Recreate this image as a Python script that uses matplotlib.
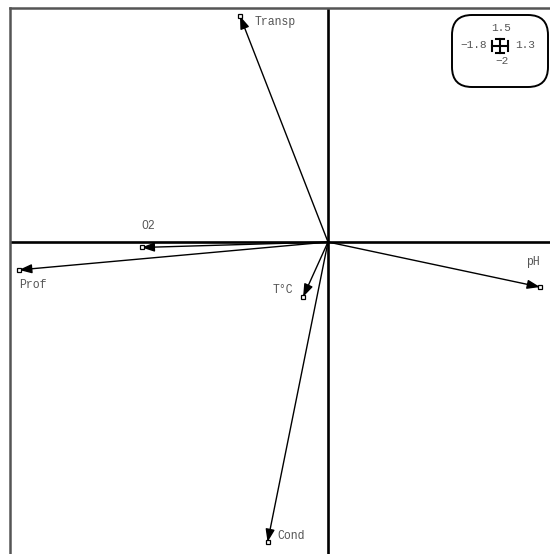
import matplotlib
matplotlib.use("Agg")
import matplotlib.pyplot as plt
from matplotlib.patches import FancyBboxPatch
from matplotlib.transforms import Affine2D
from matplotlib.lines import Line2D

# ---- data ----
variables = ["Transp", "O2", "Prof", "T°C", "Cond", "pH"]
x_vals = [-0.498, -1.055, -1.749, -0.141, -0.342, 1.200]
y_vals = [1.279, -0.031, -0.158, -0.311, -1.698, -0.255]
scale_labels = ["1.5", "−1.8", "1.3", "−2"]  # top, left, right, bottom

# label placement (pixel offsets from arrow tip) and alignment
label_offsets = [(15, -6), (7, 21), (14, -15), (-10, 7), (10, 6), (-7, 25)]
label_ha = ["left", "center", "center", "right", "left", "center"]

W, H = 550, 554
fig = plt.figure(figsize=(W / 100, H / 100), dpi=100)
fig.patch.set_facecolor("white")

s = 176.7  # px per unit
ox, oy = 328, 242
ax = fig.add_axes([10 / W, 0, (W - 10) / W, (H - 8) / H])
ax.set_xlim(-(ox - 10) / s, (W - ox) / s)
ax.set_ylim(-(H - oy) / s, (oy - 8) / s)
ax.set_xticks([])
ax.set_yticks([])
for side in ["right", "bottom"]:
    ax.spines[side].set_visible(False)
for side in ["top", "left"]:
    ax.spines[side].set_color("#555555")
    ax.spines[side].set_linewidth(1.8)

ax.axhline(0, color="black", lw=1.9, zorder=1)
ax.axvline(0, color="black", lw=1.9, zorder=1)

fam = ["Liberation Mono", "DejaVu Sans Mono"]
for name, x, y, off, ha in zip(variables, x_vals, y_vals, label_offsets, label_ha):
    ax.annotate("", xy=(x, y), xytext=(0, 0),
                arrowprops=dict(arrowstyle="-|>,head_length=0.7,head_width=0.25",
                                color="black", lw=1.0, shrinkA=0, shrinkB=0,
                                mutation_scale=11), zorder=3)
    ax.plot([x], [y], marker="s", ms=3.2, mfc="white", mec="black", mew=0.9,
            zorder=4, clip_on=False)
    ax.annotate(name, xy=(x, y), xytext=off, textcoords="offset pixels",
                ha=ha, va="center", fontsize=8.3, color="#555555", family=fam)

# ---- scale box (top right), in image pixel coords ----
pix = Affine2D().scale(1, -1).translate(0, H)
box = FancyBboxPatch((452, 15), 96, 72,
                     boxstyle="round,pad=0,rounding_size=20",
                     transform=pix, fill=False, ec="black", lw=1.4)
fig.add_artist(box)

cx, cy = 500, 46
for (xs, ys) in [([cx - 8, cx + 8], [cy, cy]),
                 ([cx, cx], [cy - 7, cy + 7]),
                 ([cx - 8, cx - 8], [cy - 5, cy + 5]),
                 ([cx + 8, cx + 8], [cy - 5, cy + 5]),
                 ([cx - 4, cx + 4], [cy - 7, cy - 7]),
                 ([cx - 4, cx + 4], [cy + 7, cy + 7])]:
    fig.add_artist(Line2D(xs, ys, transform=pix, color="black", lw=1.5))

pos = [(501, 28, "center"), (487, 45, "right"), (515, 45, "left"), (502, 61, "center")]
for lab, (px, py, ha) in zip(scale_labels, pos):
    fig.text(px, py, lab, transform=pix, ha=ha, va="center", fontsize=8,
             color="#555555", family=fam)

fig.savefig("out.png", dpi=100, facecolor="white")
